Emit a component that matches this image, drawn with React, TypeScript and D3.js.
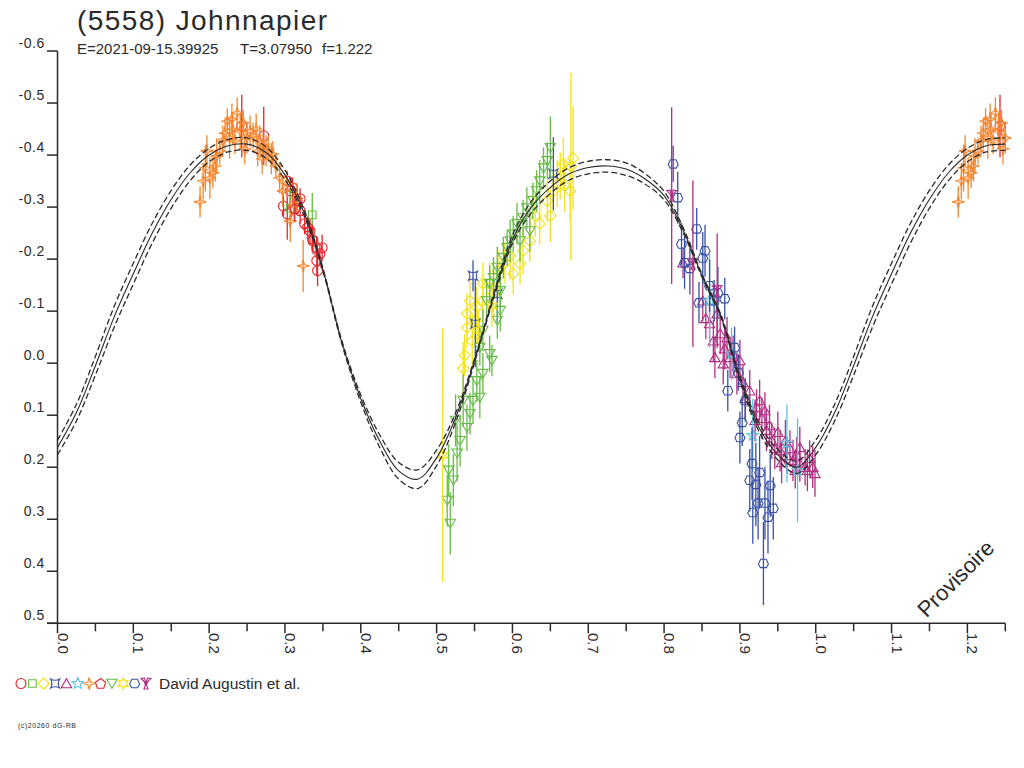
import React from 'react';
import * as d3 from 'd3';

type Pt = [number, number, number]; // phase, magnitude, error

// ---- axis ticks ----
const xMajorTicks = [0, 0.1, 0.2, 0.3, 0.4, 0.5, 0.6, 0.7, 0.8, 0.9, 1.0, 1.1, 1.2];
const xMajorLabels = ['0.0', '0.1', '0.2', '0.3', '0.4', '0.5', '0.6', '0.7', '0.8', '0.9', '1.0', '1.1', '1.2'];
const xMinorTicks = [0.05, 0.15, 0.25, 0.35, 0.45, 0.55, 0.65, 0.75, 0.85, 0.95, 1.05, 1.15, 1.25];
const yTicks = [-0.6, -0.5, -0.4, -0.3, -0.2, -0.1, 0.0, 0.1, 0.2, 0.3, 0.4, 0.5];
const yLabels = ['-0.6', '-0.5', '-0.4', '-0.3', '-0.2', '-0.1', '0.0', '0.1', '0.2', '0.3', '0.4', '0.5'];

// ---- model curve (sampled every 0.025 in phase, 0..1) ----
const curveMid = [
  0.162, 0.095, 0.005, -0.090, -0.172, -0.250, -0.315, -0.366, -0.400, -0.418,
  -0.421, -0.405, -0.362, -0.290, -0.180, -0.040, 0.068, 0.150, 0.207, 0.223,
  0.182, 0.105, -0.005, -0.128, -0.238, -0.300, -0.338, -0.364, -0.376, -0.379,
  -0.373, -0.354, -0.322, -0.256, -0.168, -0.090, 0.030, 0.123, 0.176, 0.200,
  0.162,
];
const curveSpread = [
  0.014, 0.016, 0.018, 0.020, 0.020, 0.019, 0.017, 0.015, 0.013, 0.012,
  0.012, 0.011, 0.009, 0.006, 0.003, 0.003, 0.007, 0.012, 0.016, 0.018,
  0.015, 0.009, 0.004, 0.004, 0.008, 0.011, 0.012, 0.012, 0.012, 0.012,
  0.012, 0.010, 0.008, 0.005, 0.003, 0.003, 0.005, 0.008, 0.010, 0.012,
  0.014,
];

// ---- observation sets ----
const redCircles: Pt[] = [
  [0.243, -0.456, 0.060], [0.272, -0.437, 0.056], [0.303, -0.350, 0.020], [0.307, -0.331, 0.025],
  [0.310, -0.337, 0.020], [0.303, -0.287, 0.050], [0.316, -0.312, 0.025], [0.320, -0.293, 0.025],
  [0.326, -0.268, 0.020], [0.333, -0.254, 0.025], [0.337, -0.235, 0.025], [0.342, -0.222, 0.020],
  [0.346, -0.210, 0.020], [0.342, -0.197, 0.030], [0.349, -0.222, 0.025], [0.343, -0.178, 0.030],
  [0.320, -0.316, 0.020], [0.298, -0.302, 0.020],
];
const greenSquares: Pt[] = [
  [0.307, -0.298, 0.038], [0.336, -0.285, 0.042],
];
const yellowDiamonds: Pt[] = [
  [0.540, -0.095, 0.040], [0.540, -0.068, 0.040], [0.537, -0.015, 0.040], [0.535, 0.010, 0.050],
  [0.544, -0.120, 0.045], [0.553, -0.107, 0.040], [0.561, -0.120, 0.040], [0.575, -0.133, 0.045],
  [0.561, -0.153, 0.040], [0.570, -0.153, 0.040], [0.581, -0.178, 0.040], [0.590, -0.193, 0.040],
  [0.601, -0.172, 0.040], [0.610, -0.191, 0.040], [0.614, -0.216, 0.045], [0.623, -0.235, 0.040],
  [0.636, -0.268, 0.040], [0.646, -0.312, 0.040], [0.650, -0.283, 0.050], [0.659, -0.345, 0.045],
  [0.667, -0.383, 0.050], [0.676, -0.331, 0.060], [0.680, -0.394, 0.100], [0.663, -0.360, 0.045],
  [0.669, -0.341, 0.050], [0.654, -0.331, 0.040], [0.630, -0.283, 0.040], [0.597, -0.206, 0.045],
  [0.552, -0.082, 0.045], [0.547, -0.043, 0.050], [0.677, -0.378, 0.180],
];
const blueBowties: Pt[] = [
  [0.551, -0.076, 0.084], [0.580, -0.133, 0.055], [0.654, -0.364, 0.070], [0.548, -0.168, 0.030],
];
const magentaTriangles: Pt[] = [
  [0.860, -0.076, 0.040], [0.870, -0.095, 0.050], [0.874, -0.057, 0.040], [0.865, -0.043, 0.040],
  [0.880, -0.028, 0.040], [0.887, -0.011, 0.040], [0.867, -0.011, 0.040], [0.878, 0.001, 0.040],
  [0.891, -0.018, 0.035], [0.896, 0.020, 0.040], [0.904, 0.037, 0.035], [0.913, 0.053, 0.040],
  [0.922, 0.085, 0.035], [0.929, 0.106, 0.040], [0.935, 0.129, 0.040], [0.942, 0.149, 0.035],
  [0.950, 0.133, 0.040], [0.953, 0.168, 0.040], [0.962, 0.177, 0.035], [0.970, 0.187, 0.040],
  [0.979, 0.193, 0.035], [0.986, 0.200, 0.035], [0.992, 0.183, 0.035], [0.996, 0.200, 0.040],
  [0.999, 0.212, 0.045], [0.960, 0.149, 0.040], [0.979, 0.162, 0.040], [0.907, 0.068, 0.040],
  [0.920, 0.110, 0.040], [0.933, 0.091, 0.035], [0.946, 0.164, 0.040], [0.966, 0.164, 0.035],
  [0.973, 0.206, 0.035], [0.989, 0.206, 0.040], [0.851, -0.120, 0.040], [0.855, -0.086, 0.040],
  [0.883, -0.049, 0.040], [0.900, -0.005, 0.040], [0.926, 0.072, 0.040], [0.939, 0.120, 0.040],
  [0.955, 0.191, 0.040], [0.975, 0.177, 0.035], [0.825, -0.193, 0.030],
];
const cyanStars: Pt[] = [
  [0.860, -0.120, 0.090], [0.889, -0.018, 0.050], [0.917, 0.139, 0.070], [0.962, 0.154, 0.075],
  [0.976, 0.206, 0.100],
];
const orangeStars: Pt[] = [
  [0.188, -0.310, 0.030], [0.195, -0.375, 0.045], [0.201, -0.356, 0.040], [0.205, -0.366, 0.030],
  [0.210, -0.398, 0.035], [0.197, -0.408, 0.030], [0.214, -0.408, 0.025], [0.218, -0.427, 0.030],
  [0.224, -0.465, 0.025], [0.227, -0.433, 0.040], [0.231, -0.450, 0.030], [0.237, -0.481, 0.030],
  [0.241, -0.446, 0.035], [0.245, -0.462, 0.025], [0.250, -0.433, 0.030], [0.254, -0.446, 0.030],
  [0.258, -0.437, 0.025], [0.262, -0.450, 0.030], [0.267, -0.427, 0.030], [0.271, -0.418, 0.025],
  [0.275, -0.408, 0.030], [0.278, -0.412, 0.025], [0.282, -0.393, 0.030], [0.284, -0.402, 0.025],
  [0.288, -0.379, 0.025], [0.293, -0.356, 0.030], [0.297, -0.331, 0.030], [0.303, -0.345, 0.025],
  [0.307, -0.273, 0.040], [0.316, -0.317, 0.030], [0.324, -0.187, 0.050], [0.208, -0.379, 0.030],
  [0.221, -0.442, 0.030], [0.234, -0.427, 0.025], [0.247, -0.412, 0.030], [0.264, -0.408, 0.030],
  [0.230, -0.469, 0.030], [0.192, -0.350, 0.035], [0.312, -0.302, 0.030], [0.270, -0.393, 0.030],
];
const redPentagons: Pt[] = [
  [0.313, -0.297, 0.025], [0.336, -0.239, 0.025], [0.330, -0.262, 0.020],
];
const greenTriangles: Pt[] = [
  [0.514, 0.264, 0.050], [0.518, 0.308, 0.060], [0.522, 0.225, 0.050], [0.527, 0.173, 0.055],
  [0.531, 0.149, 0.050], [0.540, 0.124, 0.045], [0.544, 0.097, 0.040], [0.548, 0.072, 0.045],
  [0.553, 0.034, 0.040], [0.557, 0.066, 0.040], [0.561, 0.020, 0.040], [0.570, -0.018, 0.035],
  [0.573, -0.005, 0.030], [0.557, -0.030, 0.035], [0.561, -0.063, 0.040], [0.580, -0.082, 0.035],
  [0.584, -0.101, 0.040], [0.588, -0.203, 0.040], [0.593, -0.222, 0.035], [0.597, -0.235, 0.040],
  [0.601, -0.248, 0.035], [0.606, -0.268, 0.040], [0.614, -0.279, 0.035], [0.619, -0.298, 0.040],
  [0.627, -0.312, 0.035], [0.632, -0.331, 0.040], [0.636, -0.350, 0.040], [0.641, -0.375, 0.040],
  [0.646, -0.389, 0.035], [0.650, -0.414, 0.060], [0.580, -0.184, 0.040], [0.575, -0.164, 0.040],
  [0.570, -0.153, 0.035], [0.566, -0.120, 0.040], [0.535, 0.072, 0.050], [0.525, 0.110, 0.050],
  [0.516, 0.206, 0.050], [0.584, -0.139, 0.040], [0.610, -0.235, 0.040], [0.623, -0.254, 0.040],
];
const yellowStars: Pt[] = [
  [0.508, 0.177, 0.244], [0.555, -0.063, 0.040], [0.573, -0.110, 0.040],
];
const bluePentagons: Pt[] = [
  [0.812, -0.383, 0.035], [0.818, -0.318, 0.050], [0.823, -0.229, 0.040], [0.827, -0.193, 0.050],
  [0.843, -0.258, 0.040], [0.851, -0.202, 0.050], [0.854, -0.216, 0.050], [0.846, -0.116, 0.040],
  [0.860, -0.149, 0.050], [0.871, -0.135, 0.050], [0.880, -0.124, 0.040], [0.893, -0.030, 0.040],
  [0.884, 0.053, 0.040], [0.903, 0.114, 0.045], [0.900, 0.143, 0.050], [0.916, 0.193, 0.070],
  [0.926, 0.210, 0.070], [0.913, 0.225, 0.060], [0.921, 0.233, 0.080], [0.940, 0.235, 0.060],
  [0.924, 0.269, 0.070], [0.933, 0.269, 0.070], [0.917, 0.287, 0.060], [0.944, 0.279, 0.060],
  [0.937, 0.296, 0.070], [0.931, 0.385, 0.080], [0.907, 0.072, 0.040], [0.898, 0.018, 0.035],
  [0.834, -0.182, 0.050], [0.866, -0.120, 0.040],
];
const magentaTrefoils: Pt[] = [
  [0.810, -0.322, 0.170], [0.838, -0.191, 0.160], [0.870, -0.139, 0.110],
];

type Shape = 'circle' | 'square' | 'diamond' | 'bowtie' | 'triangle' | 'star5' | 'star4' |
  'pentagon' | 'triangleDown' | 'star6' | 'hexagon' | 'trefoil';

const series: { name: string; data: Pt[]; color: string; shape: Shape }[] = [
  { name: 'redCircles', data: redCircles, color: '#e3262c', shape: 'circle' },
  { name: 'greenSquares', data: greenSquares, color: '#67bb47', shape: 'square' },
  { name: 'yellowDiamonds', data: yellowDiamonds, color: '#f2e21b', shape: 'diamond' },
  { name: 'blueBowties', data: blueBowties, color: '#3851a3', shape: 'bowtie' },
  { name: 'magentaTriangles', data: magentaTriangles, color: '#b22e83', shape: 'triangle' },
  { name: 'cyanStars', data: cyanStars, color: '#5bc5dc', shape: 'star5' },
  { name: 'orangeStars', data: orangeStars, color: '#f5862e', shape: 'star4' },
  { name: 'redPentagons', data: redPentagons, color: '#e3262c', shape: 'pentagon' },
  { name: 'greenTriangles', data: greenTriangles, color: '#67bb47', shape: 'triangleDown' },
  { name: 'yellowStars', data: yellowStars, color: '#f2e21b', shape: 'star6' },
  { name: 'bluePentagons', data: bluePentagons, color: '#3851a3', shape: 'hexagon' },
  { name: 'magentaTrefoils', data: magentaTrefoils, color: '#b22e83', shape: 'trefoil' },
];

const W = 1024;
const H = 768;
const FONT = '"Liberation Sans", Arial, sans-serif';
const INK = '#2a2a2a';

const x = d3.scaleLinear().domain([0, 1.25]).range([57.5, 1005.3]);
const y = d3.scaleLinear().domain([-0.6, 0.5]).range([51, 623.3]);

function polygon(n: number, r: number, rot: number, dy = 0): string {
  const pts = d3.range(n).map((i) => {
    const a = rot + (i * 2 * Math.PI) / n;
    return [r * Math.cos(a), r * Math.sin(a) + dy];
  });
  return 'M' + pts.map((p) => p[0].toFixed(2) + ',' + p[1].toFixed(2)).join('L') + 'Z';
}
function star(n: number, r1: number, r2: number, rot: number): string {
  const pts = d3.range(n * 2).map((i) => {
    const a = rot + (i * Math.PI) / n;
    const r = i % 2 === 0 ? r1 : r2;
    return [r * Math.cos(a), r * Math.sin(a)];
  });
  return 'M' + pts.map((p) => p[0].toFixed(2) + ',' + p[1].toFixed(2)).join('L') + 'Z';
}
const UP = -Math.PI / 2;
function shapePath(shape: Shape): string {
  switch (shape) {
    case 'circle':
      return d3.symbol(d3.symbolCircle, 78)() as string;
    case 'square':
      return polygon(4, 5.4, Math.PI / 4);
    case 'diamond':
      return polygon(4, 5.6, UP);
    case 'bowtie':
      return 'M-4.5,-4.5Q0,-2 4.5,-4.5Q2,0 4.5,4.5Q0,2 -4.5,4.5Q-2,0 -4.5,-4.5Z';
    case 'triangle':
      return polygon(3, 6, UP, 1.2);
    case 'star5':
      return star(5, 6, 2.6, UP);
    case 'star4':
      return star(4, 6.2, 1.8, UP);
    case 'pentagon':
      return polygon(5, 5.4, UP, 0.4);
    case 'triangleDown':
      return polygon(3, 6, Math.PI / 2, -1.2);
    case 'star6':
      return star(6, 5.8, 3.0, UP);
    case 'hexagon':
      return 'M-5,0.5L-2.8,-4.2L2.8,-4.2L5,0.5L3,4.2L-3,4.2Z';
    case 'trefoil':
      return 'M0,0L-5,-5L-1.5,-5.5ZM0,0L5,-5L1.5,-5.5ZM0,0L-2,5.5L2,5.5ZM-1.2,0a1.2,1.2 0 1,0 2.4,0a1.2,1.2 0 1,0 -2.4,0Z';
  }
  return '';
}

// extended curve phases 0 .. 1.25 reuse the periodic samples
const curveSteps = d3.range(0, 51);
function curveLine(offsetSign: number): string {
  const pts = curveSteps.map((k) => {
    const idx = k % 40;
    return [k / 40, curveMid[idx] + offsetSign * curveSpread[idx]] as [number, number];
  });
  return d3
    .line<[number, number]>()
    .x((d) => x(d[0]))
    .y((d) => y(d[1]))
    .curve(d3.curveCatmullRom.alpha(0.5))(pts) as string;
}

export default function App() {
  const legendX = d3.scaleLinear().domain([0, 11]).range([21, 146]);
  return (
    <svg
      width={W}
      height={H}
      viewBox={`0 0 ${W} ${H}`}
      style={{ position: 'absolute', left: 0, top: 0, background: '#fff' }}
      fontFamily={FONT}
    >
      <rect x={0} y={0} width={W} height={H} fill="#fff" />
      {/* Title */}
      <text x={77} y={30} fontSize={28} fill={INK} textLength={250} lengthAdjust="spacing">
        (5558) Johnnapier
      </text>
      <text x={77} y={54} fontSize={15} fill={INK}>E=2021-09-15.39925</text>
      <text x={240} y={54} fontSize={15} fill={INK}>T=3.07950</text>
      <text x={322} y={54} fontSize={15} fill={INK}>f=1.222</text>

      {/* data */}
      <g>
        {series.map((s) => (
          <g key={s.name} stroke={s.color} fill="none">
            {s.data.flatMap((d, i) =>
              [0, 1]
                .filter((off) => d[0] + off <= 1.25)
                .map((off) => {
                  const px = x(d[0] + off);
                  const py = y(d[1]);
                  return (
                    <g key={i + '-' + off}>
                      <line x1={px} x2={px} y1={y(d[1] - d[2])} y2={y(d[1] + d[2])} strokeWidth={1.3} />
                      <path d={shapePath(s.shape)} transform={`translate(${px},${py})`} strokeWidth={1.1} />
                    </g>
                  );
                })
            )}
          </g>
        ))}
      </g>

      {/* model curves */}
      <g fill="none" stroke={INK}>
        <path d={curveLine(-1)} strokeWidth={1.3} strokeDasharray="6 3" />
        <path d={curveLine(1)} strokeWidth={1.3} strokeDasharray="6 3" />
        <path d={curveLine(0)} strokeWidth={1.1} />
      </g>

      {/* axes */}
      <g stroke={INK} strokeWidth={1.5}>
        <line x1={x(0)} x2={x(0)} y1={y(-0.6)} y2={y(0.5)} />
        <line x1={47} x2={x(1.25)} y1={y(0.5)} y2={y(0.5)} />
        {yTicks.map((t) => (
          <line key={t} x1={47} x2={x(0)} y1={y(t)} y2={y(t)} />
        ))}
        {xMajorTicks.map((t) => (
          <line key={t} x1={x(t)} x2={x(t)} y1={y(0.5)} y2={y(0.5) + 10} />
        ))}
        {xMinorTicks.map((t) => (
          <line key={t} x1={x(t)} x2={x(t)} y1={y(0.5)} y2={y(0.5) + 8} />
        ))}
      </g>
      <g fill={INK} fontSize={14}>
        {yTicks.map((t, i) => (
          <text key={t} x={45} y={y(t) - 3} textAnchor="end" letterSpacing={0.6}>
            {yLabels[i]}
          </text>
        ))}
        {xMajorTicks.map((t, i) => (
          <text key={t} x={0} y={0} transform={`translate(${x(t)},${633}) rotate(90)`} textAnchor="start" fontSize={15}>
            {xMajorLabels[i]}
          </text>
        ))}
      </g>

      {/* Provisoire */}
      <text x={961} y={584} fontSize={22} fill={INK} textAnchor="middle" transform="rotate(-45 961 584)">
        Provisoire
      </text>

      {/* legend */}
      <g fill="none">
        {series.map((s, i) => (
          <path
            key={s.name}
            d={shapePath(s.shape)}
            transform={`translate(${legendX(i)},683.5)`}
            stroke={s.color}
            strokeWidth={1.1}
          />
        ))}
      </g>
      <text x={159} y={688.5} fontSize={15.5} fill={INK}>David Augustin et al.</text>
      <text x={18} y={728} fontSize={7} fill={INK} textLength={58} lengthAdjust="spacing">(c)20260 dG-RB</text>
    </svg>
  );
}
